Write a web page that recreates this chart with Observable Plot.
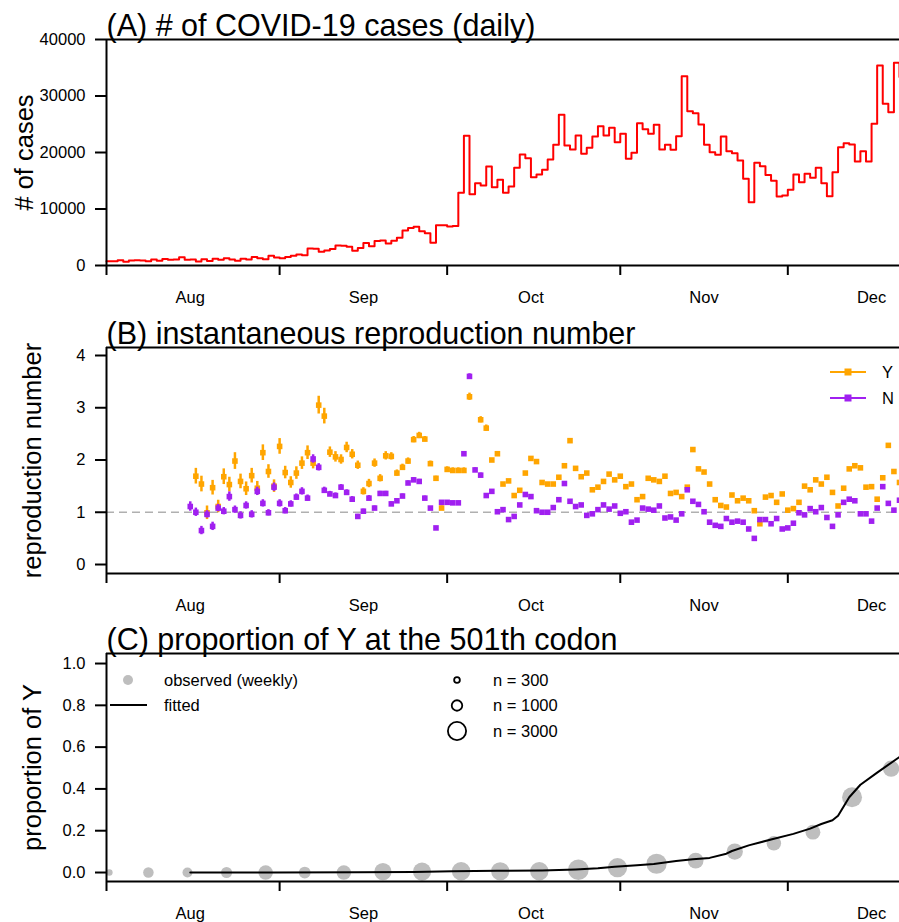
<!DOCTYPE html>
<html>
<head>
<meta charset="utf-8">
<script src="https://cdn.jsdelivr.net/npm/d3@7"></script>
<script src="https://cdn.jsdelivr.net/npm/@observablehq/plot@0.6"></script>
<style>
  html, body { margin: 0; padding: 0; background: #fff; }
  #wrap { position: relative; width: 899px; height: 922px; overflow: hidden; background: #fff; }
  #wrap > svg { position: absolute; left: 0; }
</style>
</head>
<body>
<div id="wrap"></div>
<script>
// ---------------- DATA ----------------
const FONT = '"Liberation Sans", Arial, Helvetica, sans-serif';
const xDomain = ["2020-08-01", "2020-12-21"];
const monthStarts = ["2020-08-01", "2020-09-01", "2020-10-01", "2020-11-01", "2020-12-01"];
const monthLabelDates = ["2020-08-16", "2020-09-16", "2020-10-16", "2020-11-16", "2020-12-16"];

// (A) daily cases, from 2020-08-01
const casesStart = "2020-08-01";
const dailyCases = [
  745, 740, 940, 670, 890, 950, 870, 760, 1060, 820, 1150, 1010, 1060, 1440, 1010, 1040, 710, 1090, 810, 1180,
  1030, 1290, 1040, 850, 1180, 1050, 1520, 1280, 1110, 1720, 1410,
  1300, 1510, 1740, 1940, 1810, 2990, 2950, 2420, 2660, 2920, 3540, 3500, 3330, 2620, 3110, 3990, 3400, 4320, 4420, 3900,
  4370, 4930, 6180, 6630, 6870, 6040, 5690, 4040, 7140, 7110,
  6910, 6970, 12870, 22960, 12590, 14540, 14160, 17540, 13860, 15160, 12860, 13980, 17290, 19650, 19000, 15640, 16110, 16930, 18760, 21360,
  26670, 21240, 20530, 23010, 19770, 20830, 22830, 24660, 23010, 24370, 21830,
  23300, 18880, 19940, 25190, 24130, 23300, 24900, 20530, 21360, 20470, 22890, 33510, 27320, 26960, 24960, 21360, 20060, 19590, 22830, 20240,
  19880, 18590, 15340, 11210, 18170, 17580, 16000, 15000, 12210, 12390,
  13390, 16110, 14750, 16230, 15520, 17290, 14570, 12270, 16520, 20950, 21650, 21420, 18410, 20240, 18410, 25080, 35400, 28620, 27140, 35870,
  33360
];

// (B) instantaneous reproduction number
const rYStart = "2020-08-17";
const rY = [
  1.69, 1.54, 0.99, 1.47, 1.11, 1.68, 1.53, 1.98, 1.59, 1.45, 1.70, 1.46, 2.14, 1.78, 1.50,
  2.26, 1.76, 1.57, 1.75, 1.94, 2.14, 1.94, 3.05, 2.84, 2.15, 2.06, 2.01, 2.24, 2.11, 1.90,
  1.40, 1.55, 1.94, 1.65, 2.08, 2.07, 1.75, 1.86, 1.98, 2.39, 2.47, 2.40, 1.93, 1.65, 1.08,
  1.82, 1.80, 1.80, 1.80, 3.21, null, 2.77, 2.61, 2.00, 2.12, 1.54, 1.60, 1.32, 1.42, 1.75, 2.03,
  1.97, 1.57, 1.54, 1.54, 1.67, 1.89, 2.37, 1.84, 1.68, 1.75, 1.43, 1.48, 1.59, 1.73, 1.62,
  1.69, 1.49, 1.54, 1.24, 1.30, 1.65, 1.62, 1.59, 1.69, 1.36, 1.38, 1.30, 1.48, 2.20, 1.83,
  1.77, 1.54, 1.24, 1.13, 1.10, 1.33, 1.22, 1.27, 1.22, 1.03, 0.78, 1.29, 1.32, 1.19, 1.35,
  1.04, 1.07, 1.19, 1.50, 1.43, 1.62, 1.54, 1.67, 1.38, 1.12, 1.46, 1.83, 1.89, 1.85, 1.48,
  1.49, 1.25, 1.66, 2.28, 1.78, 1.57
];
const ciY = [
  0.15, 0.15, 0.13, 0.14, 0.12, 0.15, 0.14, 0.16, 0.14, 0.13, 0.14, 0.13, 0.15, 0.13, 0.12,
  0.15, 0.12, 0.11, 0.12, 0.12, 0.13, 0.11, 0.17, 0.15, 0.10, 0.10, 0.09, 0.10, 0.09, 0.08,
  0.07, 0.08, 0.08, 0.07, 0.08, 0.07, 0.06, 0.06, 0.06, 0.06, 0.06, 0.05, 0.05, 0.04, 0.04,
  0.05, 0.05, 0.05, 0.05, 0.07, 0, 0.06, 0.06
];
const rNStart = "2020-08-16";
const rN = [
  1.11, 1.00, 0.65, 0.96, 0.73, 1.08, 1.02, 1.30, 1.05, 0.94, 1.13, 0.96, 1.40, 1.17, 0.99, 1.48,
  1.17, 1.03, 1.16, 1.29, 1.40, 1.27, 2.02, 1.86, 1.42, 1.35, 1.32, 1.48, 1.38, 1.25, 0.92,
  1.02, 1.27, 1.08, 1.36, 1.36, 1.16, 1.22, 1.31, 1.56, 1.62, 1.59, 1.27, 1.08, 0.70, 1.19,
  1.19, 1.18, 1.18, 2.12, 3.60, 1.81, 1.71, 1.32, 1.40, 1.01, 1.05, 0.86, 0.92, 1.14, 1.34, 1.30,
  1.03, 1.00, 1.00, 1.09, 1.24, 1.55, 1.21, 1.11, 1.14, 0.94, 0.97, 1.05, 1.14, 1.06, 1.12,
  0.98, 1.01, 0.81, 0.85, 1.08, 1.06, 1.04, 1.12, 0.89, 0.91, 0.85, 0.97, 1.43, 1.21, 1.15,
  1.01, 0.81, 0.75, 0.73, 0.88, 0.81, 0.83, 0.81, 0.68, 0.50, 0.86, 0.86, 0.78, 0.88, 0.68,
  0.70, 0.79, 0.99, 0.95, 1.07, 1.01, 1.09, 0.90, 0.73, 0.95, 1.19, 1.25, 1.22, 0.97, 0.97,
  0.83, 1.08, 1.49, 1.17, 1.04, 1.23
];
const ciN = [
  0.09, 0.08, 0.08, 0.07, 0.08, 0.07, 0.07, 0.09, 0.07, 0.07, 0.07, 0.07, 0.08, 0.07, 0.06, 0.08,
  0.07, 0.06, 0.06, 0.06, 0.07, 0.06, 0.08, 0.07, 0.06, 0.05, 0.05, 0.05, 0.05, 0.05, 0.04,
  0.04, 0.05, 0.04, 0.04, 0.04, 0.04, 0.04, 0.04, 0.04, 0.04, 0.04, 0.04, 0.03, 0.03, 0.03,
  0.03, 0.03, 0.03, 0.04, 0.05, 0.04, 0.04, 0.03
];

// (C) proportion of Y at codon 501
const weekDates = [
  "2020-08-01T12:00Z", "2020-08-08T12:00Z", "2020-08-15T12:00Z", "2020-08-22T12:00Z", "2020-08-29T12:00Z",
  "2020-09-05T12:00Z", "2020-09-12T12:00Z", "2020-09-19T12:00Z", "2020-09-26T12:00Z", "2020-10-03T12:00Z",
  "2020-10-10T12:00Z", "2020-10-17T12:00Z", "2020-10-24T12:00Z", "2020-10-31T12:00Z", "2020-11-07T12:00Z",
  "2020-11-14T12:00Z", "2020-11-21T12:00Z", "2020-11-28T12:00Z", "2020-12-05T12:00Z", "2020-12-12T12:00Z",
  "2020-12-19T12:00Z"
];
const propObserved = [0, 0, 0, 0, 0, 0, 0, 0.004, 0.004, 0.006, 0.006, 0.006, 0.013, 0.023, 0.042, 0.057, 0.10, 0.14, 0.193, 0.36, 0.497];
const sampleSize = [400, 1000, 900, 1100, 1900, 1250, 1900, 2700, 3000, 3100, 3000, 3050, 3850, 3350, 3700, 2250, 2400, 1900, 2000, 3600, 2400];
const fitDates = [
  "2020-08-16", "2020-08-31", "2020-09-15", "2020-09-25", "2020-10-02", "2020-10-10", "2020-10-18", "2020-10-24",
  "2020-10-28", "2020-10-31", "2020-11-04", "2020-11-07", "2020-11-11", "2020-11-14", "2020-11-17", "2020-11-20",
  "2020-11-21", "2020-11-24", "2020-11-28", "2020-12-02", "2020-12-05", "2020-12-07", "2020-12-09", "2020-12-10",
  "2020-12-12", "2020-12-14", "2020-12-17", "2020-12-21"
];
const fitValues = [
  0.000, 0.000, 0.001, 0.003, 0.006, 0.008, 0.010, 0.015,
  0.020, 0.028, 0.035, 0.041, 0.055, 0.064, 0.070, 0.090,
  0.103, 0.130, 0.158, 0.185, 0.210, 0.232, 0.250, 0.272,
  0.360, 0.420, 0.478, 0.553
];
const sizeLegendN = [300, 1000, 3000];

// ---------------- BUILD ----------------
const DAY = 864e5;
const toDate = s => new Date(s);
const xDom = xDomain.map(toDate);
const casesData = dailyCases.map((v, i) => ({date: new Date(+toDate(casesStart) + i * DAY), cases: v}));
function series(start, values, ci) {
  const t0 = +toDate(start);
  return values.map((v, i) => ({date: new Date(t0 + i * DAY), r: v, e: ci[i] ?? 0})).filter(d => d.r != null);
}
const dataY = series(rYStart, rY, ciY);
const dataN = series(rNStart, rN, ciN);
const weekly = weekDates.map((d, i) => ({date: toDate(d), p: propObserved[i], n: sampleSize[i]}));
const fitted = fitDates.map((d, i) => ({date: toDate(d), p: fitValues[i]}));

const COL_Y = "#FFA500", COL_N = "#A020F0", COL_GREY = "#BEBEBE";
const rDomain = [0, 3000], rRange = [0, 9.1];

function panel({height, marginTop, marginBottom, yDomain, yTicks, yFormat, title, ylabel, ylabelDx, marks, extra = {}}) {
  return Plot.plot({
    width: 899, height, marginLeft: 106, marginRight: 0, marginTop, marginBottom,
    style: {fontFamily: FONT, fontSize: "16.5px", background: "white", color: "black", overflow: "visible"},
    x: {type: "utc", domain: xDom},
    y: {domain: yDomain},
    ...extra,
    marks: [
      ...marks,
      Plot.ruleX([xDom[0]], {stroke: "black", strokeWidth: 2}),
      Plot.ruleY([yDomain[0]], {stroke: "black", strokeWidth: 2}),
      Plot.ruleY([yDomain[1]], {stroke: "black", strokeWidth: 2}),
      Plot.axisY({ticks: yTicks, tickFormat: yFormat, tickSize: 11, tickPadding: 10, strokeWidth: 2, label: null}),
      Plot.axisX({ticks: monthStarts.map(toDate), tickSize: 10, tickFormat: () => "", strokeWidth: 2, label: null}),
      Plot.axisX({ticks: monthLabelDates.map(toDate), tickSize: 0, tickPadding: 26, tickFormat: d3.utcFormat("%b"), label: null}),
      Plot.text([title], {text: d => d, frameAnchor: "top-left", textAnchor: "start", lineAnchor: "bottom", dy: -4, fontSize: 30.5, fill: "black"}),
      Plot.text([ylabel], {text: d => d, frameAnchor: "left", textAnchor: "middle", lineAnchor: "middle", rotate: -90, dx: ylabelDx, fontSize: 25.5, fill: "black"})
    ]
  });
}

const wrap = document.getElementById("wrap");

const plotA = panel({
  height: 310, marginTop: 39, marginBottom: 45,
  yDomain: [0, 40000], yTicks: [0, 10000, 20000, 30000, 40000], yFormat: d => String(d),
  title: "(A) # of COVID-19 cases (daily)", ylabel: "# of cases", ylabelDx: -82,
  marks: [
    Plot.line(casesData, {x: "date", y: "cases", stroke: "#FF0000", strokeWidth: 2, curve: "step-after"})
  ]
});
plotA.style.top = "0px";
wrap.appendChild(plotA);

const plotB = panel({
  height: 310, marginTop: 37, marginBottom: 47,
  yDomain: [-0.172, 4.153], yTicks: [0, 1, 2, 3, 4], yFormat: d => String(d),
  title: "(B) instantaneous reproduction number", ylabel: "reproduction number", ylabelDx: -74,
  marks: [
    Plot.ruleY([1], {stroke: "#B0B0B0", strokeWidth: 1.6, strokeDasharray: "8,5"}),
    Plot.ruleX(dataY.filter(d => d.e > 0), {x: "date", y1: d => d.r - d.e, y2: d => d.r + d.e, stroke: COL_Y, strokeWidth: 2.5}),
    Plot.dot(dataY, {x: "date", y: "r", symbol: "square", r: 3.15, fill: COL_Y}),
    Plot.ruleX(dataN.filter(d => d.e > 0), {x: "date", y1: d => d.r - d.e, y2: d => d.r + d.e, stroke: COL_N, strokeWidth: 2.5}),
    Plot.dot(dataN, {x: "date", y: "r", symbol: "square", r: 3.15, fill: COL_N})
  ]
});
plotB.style.top = "310px";
wrap.appendChild(plotB);

const plotC = panel({
  height: 302, marginTop: 33, marginBottom: 41,
  yDomain: [-0.043, 1.048], yTicks: [0, 0.2, 0.4, 0.6, 0.8, 1.0], yFormat: d3.format(".1f"),
  title: "(C) proportion of Y at the 501th codon", ylabel: "proportion of Y", ylabelDx: -74,
  extra: {r: {type: "sqrt", domain: rDomain, range: rRange}},
  marks: [
    Plot.dot(weekly, {x: "date", y: "p", r: "n", fill: COL_GREY, stroke: "none"}),
    Plot.line(fitted, {x: "date", y: "p", stroke: "black", strokeWidth: 2})
  ]
});
plotC.style.top = "620px";
wrap.appendChild(plotC);

// ---------------- LEGENDS (overlay) ----------------
const ov = d3.select(wrap).append("svg")
  .attr("width", 899).attr("height", 922)
  .style("top", "0px").style("pointer-events", "none")
  .attr("font-family", FONT).attr("font-size", 16.5);

// legend B
[{label: "Y", color: COL_Y, y: 372}, {label: "N", color: COL_N, y: 398}].forEach(it => {
  ov.append("line").attr("x1", 830).attr("x2", 866).attr("y1", it.y).attr("y2", it.y)
    .attr("stroke", it.color).attr("stroke-width", 2);
  ov.append("rect").attr("x", 844.5).attr("y", it.y - 3.5).attr("width", 7).attr("height", 7).attr("fill", it.color);
  ov.append("text").attr("x", 882).attr("y", it.y).attr("dy", "0.35em").text(it.label);
});

// legend C
ov.append("circle").attr("cx", 128).attr("cy", 680).attr("r", 5).attr("fill", COL_GREY);
ov.append("text").attr("x", 164).attr("y", 680).attr("dy", "0.35em").text("observed (weekly)");
ov.append("line").attr("x1", 110).attr("x2", 147).attr("y1", 705).attr("y2", 705).attr("stroke", "black").attr("stroke-width", 2);
ov.append("text").attr("x", 164).attr("y", 705).attr("dy", "0.35em").text("fitted");
const rScale = d3.scaleSqrt().domain(rDomain).range(rRange);
sizeLegendN.forEach((n, i) => {
  const y = 680 + i * 25.5;
  ov.append("circle").attr("cx", 457).attr("cy", y).attr("r", rScale(n))
    .attr("fill", "none").attr("stroke", "black").attr("stroke-width", 1.8);
  ov.append("text").attr("x", 493).attr("y", y).attr("dy", "0.35em").text(`n = ${n}`);
});
</script>
</body>
</html>
